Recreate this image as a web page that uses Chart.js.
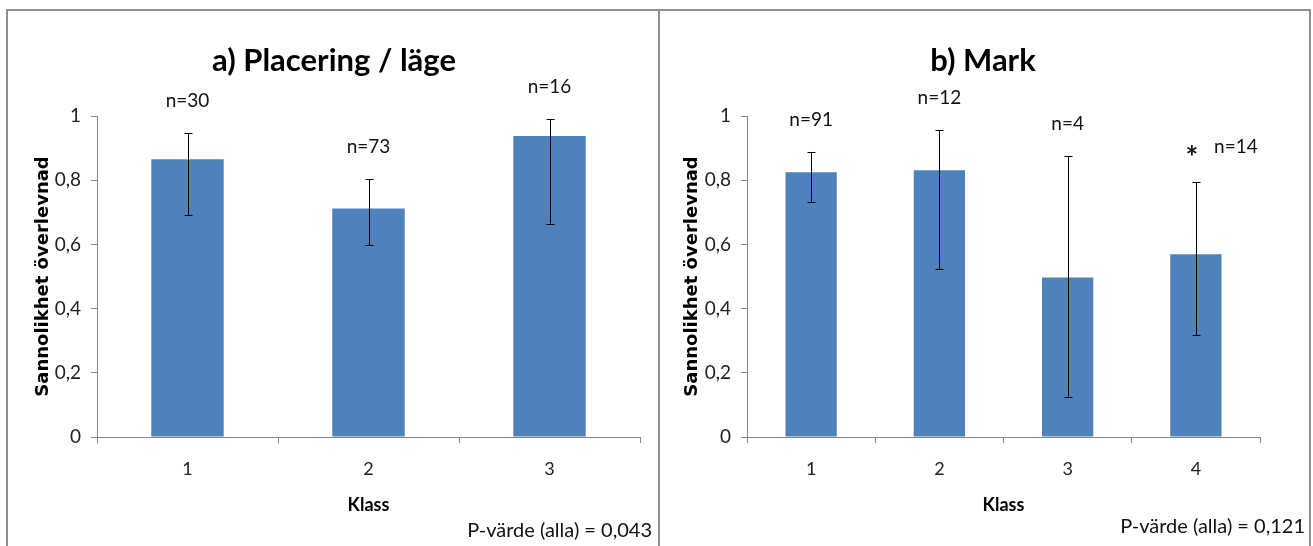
<!DOCTYPE html>
<html>
<head>
<meta charset="utf-8">
<script src="https://cdn.jsdelivr.net/npm/chart.js@4.4.1/dist/chart.umd.min.js"></script>
<style>
html,body{margin:0;padding:0;background:#fff;}
body{width:1313px;height:546px;position:relative;overflow:hidden;}
.panel{position:absolute;top:9px;height:600px;border:2px solid #8f8f8f;box-sizing:border-box;}
canvas{position:absolute;top:0;}
</style>
</head>
<body>
<div class="panel" style="left:6px;width:654px"></div>
<div class="panel" style="left:658px;width:653px"></div>
<canvas id="chartA" width="660" height="546" style="left:0"></canvas>
<canvas id="chartB" width="653" height="546" style="left:660px"></canvas>
<script>
// Survival probability per class, with error bars (low/high) and sample sizes.
const klassA = ["1","2","3"];
const valA   = [0.865, 0.712, 0.938];
const lowA   = [0.692, 0.598, 0.665];
const highA  = [0.947, 0.804, 0.990];
const nA     = ["n=30","n=73","n=16"];

const klassB = ["1","2","3","4"];
const valB   = [0.825, 0.831, 0.497, 0.569];
const lowB   = [0.732, 0.522, 0.126, 0.317];
const highB  = [0.888, 0.957, 0.875, 0.794];
const nB     = ["n=91","n=12","n=4","n=14"];
const markB  = ["","","","*"];

const yTicks = [0, 0.2, 0.4, 0.6, 0.8, 1];

const FONT = "Lato, 'Open Sans', sans-serif";
const AX = "#868686";
const BAR = "#4F81BD";
const fmtTick = v => (v===0||v===1) ? String(v) : v.toFixed(1).replace(".", ",");

// draws title, error bars, n-labels and the p-value note
const extras = {
  id: "extras",
  afterDatasetsDraw(chart, args, o){
    const {ctx, scales:{x, y}} = chart;
    ctx.save();
    // error bars
    ctx.strokeStyle = "#000"; ctx.lineWidth = 1;
    o.low.forEach((lo,i)=>{
      const px = Math.round(x.getPixelForValue(i)) + 0.5;
      const y0 = y.getPixelForValue(lo), y1 = y.getPixelForValue(o.high[i]);
      ctx.beginPath();
      ctx.moveTo(px, y0); ctx.lineTo(px, y1);
      ctx.moveTo(px-4, Math.round(y0)+0.5); ctx.lineTo(px+4, Math.round(y0)+0.5);
      ctx.moveTo(px-4, Math.round(y1)+0.5); ctx.lineTo(px+4, Math.round(y1)+0.5);
      ctx.stroke();
    });
    // n labels above the error bars
    ctx.fillStyle = "#111";
    ctx.font = "19px " + FONT;
    ctx.textAlign = "center"; ctx.textBaseline = "middle";
    o.labels.forEach((t,i)=>{
      const px = x.getPixelForValue(i);
      const py = y.getPixelForValue(o.high[i]) - 32;
      const mk = o.marks ? o.marks[i] : "";
      if(mk){
        ctx.font = "bold 30px " + FONT;
        ctx.fillText(mk, px-4, py+8);
        ctx.font = "19px " + FONT;
        ctx.fillText(t, px+40, py-3);
      } else ctx.fillText(t, px, py);
    });
    // title
    ctx.fillStyle = "#000";
    ctx.font = "bold 31px " + FONT;
    ctx.fillText(o.title, o.titleX, 61);
    // p-value
    ctx.font = "20px " + FONT;
    ctx.textAlign = "right";
    ctx.fillStyle = "#111";
    ctx.fillText(o.note, o.noteX, o.noteY);
    ctx.restore();
  }
};

function makeChart(id, klass, vals, ex, pad, yW){
  return new Chart(document.getElementById(id), {
    type: "bar",
    data: { labels: klass, datasets: [{ data: vals, backgroundColor: BAR, borderWidth: 0,
      barPercentage: 0.4, categoryPercentage: 1 }] },
    options: {
      responsive: false, animation: false,
      layout: { padding: { top: 116, left: pad.l, right: pad.r, bottom: 30 } },
      plugins: { legend: {display:false}, tooltip: {enabled:false}, extras: ex },
      scales: {
        x: {
          grid: { offset: true, drawOnChartArea: false, tickLength: 6, color: AX },
          border: { color: AX },
          ticks: { font: {family: FONT, size: 18}, color: "#222", padding: 15 },
          title: { display: true, text: "Klass", color: "#000", padding: 0,
                   font: {family: FONT, size: 18, weight: "bold"} },
          afterFit: s => { s.height = 79; }
        },
        y: {
          min: 0, max: 1,
          afterBuildTicks: s => { s.ticks = yTicks.map(v => ({value: v})); },
          grid: { drawOnChartArea: false, tickLength: 6, color: AX },
          border: { color: AX },
          ticks: { callback: fmtTick, font: {family: FONT, size: 19}, color: "#222", padding: 10 },
          title: { display: true, text: "Sannolikhet överlevnad", color: "#000", padding: 0,
                   font: {family: "'DejaVu Sans', sans-serif", size: 18, weight: "bold"} },
          afterFit: s => { s.width = yW; }
        }
      }
    },
    plugins: [extras]
  });
}

makeChart("chartA", klassA, valA,
  { low: lowA, high: highA, labels: nA, title: "a) Placering / läge", titleX: 334,
    note: "P-värde (alla) = 0,043", noteX: 652, noteY: 531 },
  { l: 33, r: 20 }, 64);

makeChart("chartB", klassB, valB,
  { low: lowB, high: highB, labels: nB, marks: markB, title: "b) Mark", titleX: 323,
    note: "P-värde (alla) = 0,121", noteX: 645, noteY: 527 },
  { l: 22, r: 53 }, 65);
</script>
</body>
</html>
